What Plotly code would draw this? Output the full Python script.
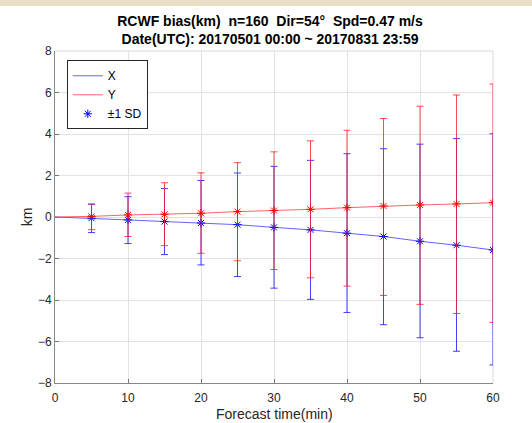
import plotly.graph_objects as go

# Forecast time (min)
t_line = [0, 5, 10, 15, 20, 25, 30, 35, 40, 45, 50, 55, 60]
t_err = [5, 10, 15, 20, 25, 30, 35, 40, 45, 50, 55, 60]

# Mean bias X and Y (km)
x_mean = [0, -0.06, -0.14, -0.22, -0.29, -0.37, -0.50, -0.62, -0.78, -0.94, -1.17, -1.36, -1.59]
y_mean = [0, 0.03, 0.10, 0.13, 0.18, 0.26, 0.31, 0.37, 0.45, 0.53, 0.58, 0.63, 0.69]

# upper / lower ends of the ±1 SD bars (km)
x_upper = [0.61, 0.98, 1.37, 1.76, 2.12, 2.44, 2.73, 3.05, 3.29, 3.51, 3.78, 4.01]
x_lower = [-0.75, -1.28, -1.81, -2.31, -2.87, -3.43, -3.97, -4.60, -5.19, -5.82, -6.47, -7.13]
y_upper = [0.63, 1.15, 1.65, 2.13, 2.62, 3.14, 3.67, 4.18, 4.75, 5.34, 5.88, 6.41]
y_lower = [-0.61, -0.94, -1.38, -1.75, -2.11, -2.53, -2.93, -3.33, -3.78, -4.21, -4.65, -5.08]

x_tick_vals = [0, 10, 20, 30, 40, 50, 60]
y_tick_vals = [-8, -6, -4, -2, 0, 2, 4, 6, 8]

title_text = "<b>RCWF bias(km)  n=160  Dir=54°  Spd=0.47 m/s</b><br><b>Date(UTC): 20170501 00:00 ~ 20170831 23:59</b>"
x_title = "Forecast time(min)"
y_title = "km"

BLUE = "rgba(0,0,255,1)"
RED = "rgba(255,0,0,1)"

xm_e = x_mean[1:]
ym_e = y_mean[1:]

fig = go.Figure()
fig.add_trace(go.Scatter(x=t_line, y=x_mean, mode="lines", name="X",
                         line=dict(color="rgba(60,60,255,0.8)", width=1)))
fig.add_trace(go.Scatter(x=t_line, y=y_mean, mode="lines", name="Y",
                         line=dict(color="rgba(255,60,60,0.8)", width=1)))
fig.add_trace(go.Scatter(
    x=t_err, y=xm_e, mode="markers", name="±1 SD",
    marker=dict(symbol="asterisk-open", size=7, color=BLUE, line=dict(color=BLUE, width=1)),
    error_y=dict(type="data", symmetric=False,
                 array=[u - m for u, m in zip(x_upper, xm_e)],
                 arrayminus=[m - l for m, l in zip(xm_e, x_lower)],
                 color="rgba(30,30,255,0.85)", thickness=1, width=3.5)))
fig.add_trace(go.Scatter(
    x=t_err, y=ym_e, mode="markers", name="Y SD", showlegend=False,
    marker=dict(symbol="asterisk-open", size=7, color=RED, line=dict(color=RED, width=1)),
    error_y=dict(type="data", symmetric=False,
                 array=[u - m for u, m in zip(y_upper, ym_e)],
                 arrayminus=[m - l for m, l in zip(ym_e, y_lower)],
                 color="rgba(255,30,30,0.8)", thickness=1, width=3.5)))

axis_font = dict(family="Liberation Sans, Arial, sans-serif", size=12, color="#262626")

fig.update_layout(
    width=532, height=423,
    margin=dict(l=55, r=39, t=51, b=40, autoexpand=False),
    paper_bgcolor="white", plot_bgcolor="white",
    font=dict(family="Liberation Sans, Arial, sans-serif", color="#262626"),
    title=dict(text=title_text, x=270/532, xanchor="center", y=1 - 26/423, yanchor="middle",
               font=dict(size=14, color="black")),
    showlegend=True,
    legend=dict(x=0.027, y=0.972, xanchor="left", yanchor="top",
                bgcolor="white", bordercolor="#262626", borderwidth=1,
                font=dict(size=12, color="black"), tracegroupgap=0, itemwidth=30),
    xaxis=dict(range=[0, 60], tickvals=x_tick_vals, ticks="inside", ticklen=4,
               tickcolor="#777", showline=True, linecolor="#888", linewidth=1,
               showgrid=True, gridcolor="#e2e2e2", zeroline=False, automargin=False,
               tickfont=axis_font, ticklabelstandoff=4),
    yaxis=dict(range=[-8, 8], tickvals=y_tick_vals, ticks="inside", ticklen=4,
               tickcolor="#777", showline=True, linecolor="#888", linewidth=1,
               showgrid=True, gridcolor="#e2e2e2", zeroline=False, automargin=False,
               tickfont=axis_font,
               title=dict(text=y_title, font=dict(size=14, color="#262626"), standoff=2)),
    annotations=[
        dict(text=x_title, xref="paper", yref="paper", x=0.5, y=-0.092,
             xanchor="center", yanchor="middle", showarrow=False,
             font=dict(size=14, color="#262626")),
    ],
    shapes=[
        dict(type="line", xref="paper", yref="paper", x0=0, x1=1, y0=1, y1=1,
             line=dict(color="#e6e6e6", width=1.5), layer="below"),
        dict(type="line", xref="paper", yref="paper", x0=1, x1=1, y0=0, y1=1,
             line=dict(color="#e6e6e6", width=1.5), layer="below"),
        dict(type="rect", xref="paper", yref="paper", x0=-0.2, x1=1.2,
             y0=1 + 45/332, y1=1 + 60/332, fillcolor="#e8dfc6", line=dict(width=0)),
    ],
)

fig.write_html("out.html", config={"displayModeBar": False},
               post_script="document.body.style.margin='0';document.body.style.padding='0';"
                           "document.body.style.overflow='hidden';")
